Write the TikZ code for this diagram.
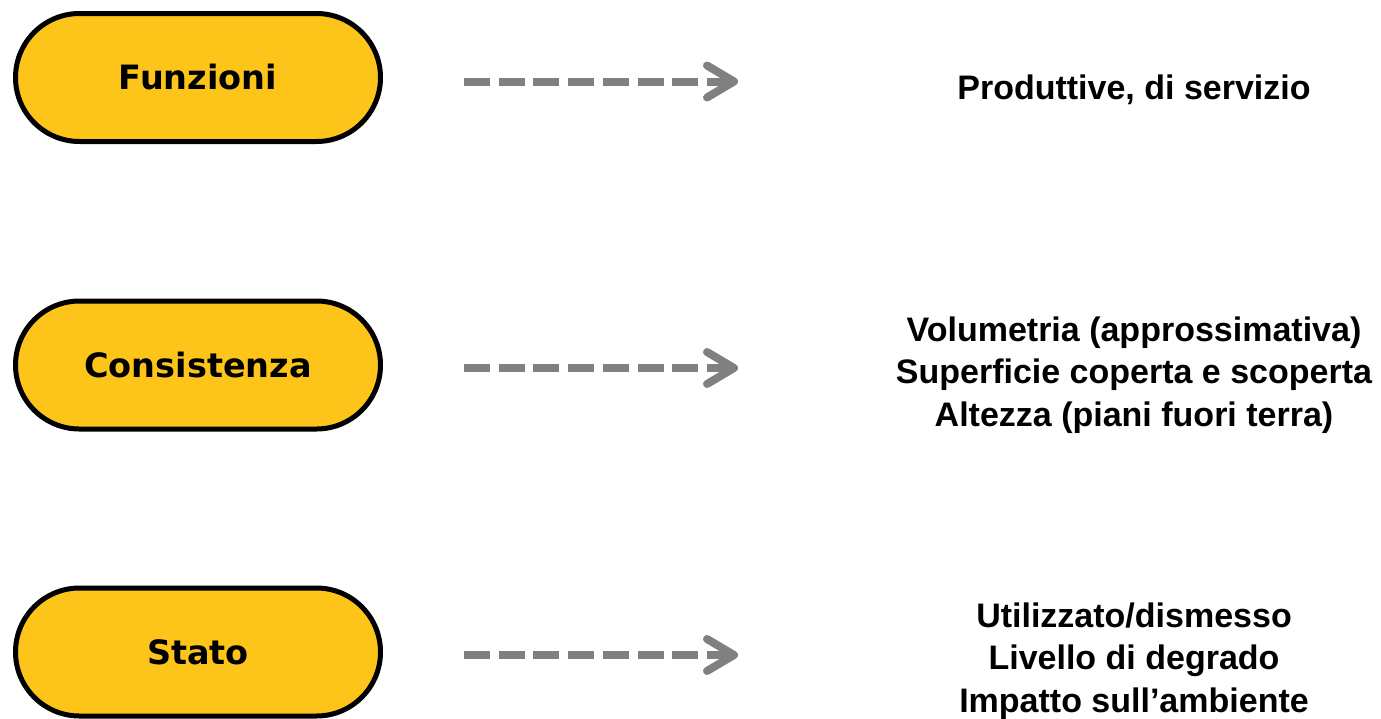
\documentclass[tikz,border=0pt]{standalone}
\usepackage{fontspec}
\setmainfont{Liberation Sans}
\newfontfamily\pillfont{DejaVu Sans}
\usetikzlibrary{shapes.misc,arrows.meta}

\definecolor{pillyellow}{RGB}{253,196,26}
\definecolor{arrowgray}{RGB}{128,128,128}

\tikzset{
  pill/.style={rounded rectangle, draw=black, line width=5pt, fill=pillyellow,
    minimum width=365pt, minimum height=128pt, inner sep=0pt,
    font=\pillfont\bfseries\fontsize{33.5}{40}\selectfont},
  desc/.style={align=center, inner sep=0pt,
    font=\bfseries\fontsize{34}{42.5}\selectfont},
  dasharrow/.style={draw=arrowgray, line width=8pt, dash pattern=on 26pt off 8.7pt,
    -{Straight Barb[length=27pt,width=32pt,line cap=round,line join=round]}}
}

\begin{document}
\begin{tikzpicture}[x=1pt,y=-1pt]

\useasboundingbox (0,0) rectangle (1381,718);

\node [pill] (funz) at (198,77.5) {Funzioni};
\node [pill] (cons) at (198,365) {Consistenza};
\node [pill] (stato) at (198,652) {Stato};

\node [desc, anchor=base] (prod) at (1134,99) {Produttive, di servizio};
\node [desc] (volu) at (1134,375) {Volumetria (approssimativa)\\Superficie coperta e scoperta\\Altezza (piani fuori terra)};
\node [desc] (util) at (1134,661) {Utilizzato/dismesso\\Livello di degrado\\Impatto sull'ambiente};

\draw [dasharrow] ([xshift=81pt,yshift=-4pt]funz.east) -- ++(274,0);
\draw [dasharrow] ([xshift=81pt,yshift=-3pt]cons.east) -- ++(274,0);
\draw [dasharrow] ([xshift=81pt,yshift=-3pt]stato.east) -- ++(274,0);

\end{tikzpicture}
\end{document}
